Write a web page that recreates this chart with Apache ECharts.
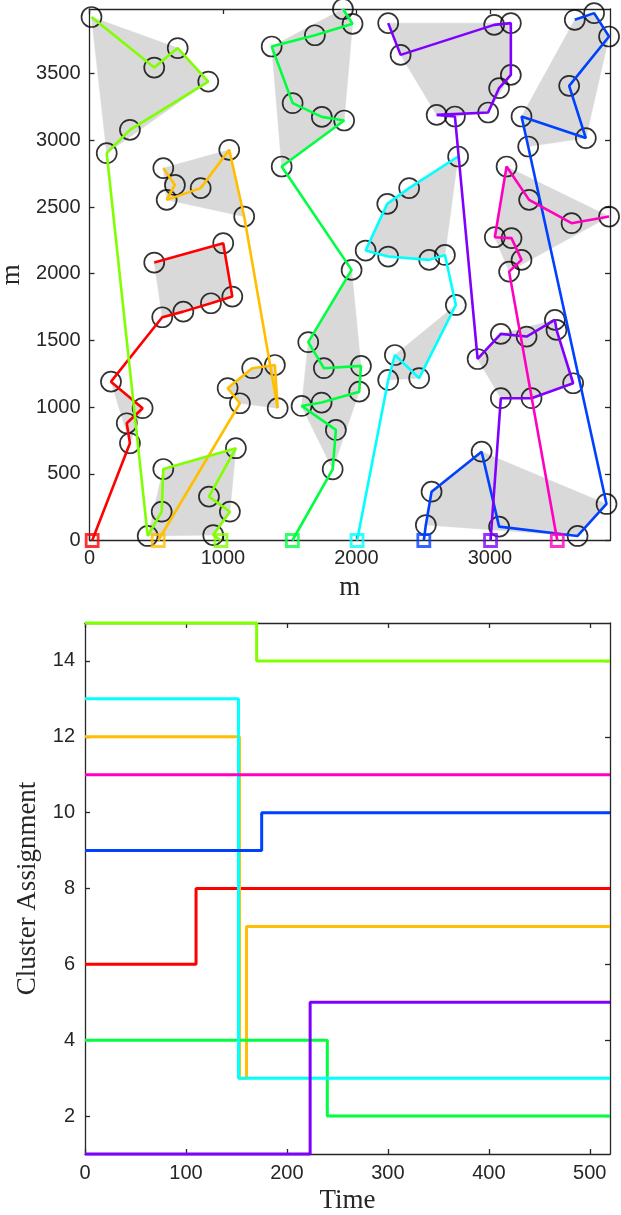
<!DOCTYPE html>
<html>
<head>
<meta charset="utf-8">
<script src="https://cdn.jsdelivr.net/npm/echarts@6/dist/echarts.min.js"></script>
<style>
html,body{margin:0;padding:0;background:#fff;}
#chart{width:621px;height:1215px;}
</style>
</head>
<body>
<div id="chart"></div>
<script>
// ---------- data: routes map (top) ----------
const vehicleColors = ['#ff0000','#ffbf00','#80ff00','#00ff40','#00ffff','#0040ff','#8000ff','#ff00bf'];
const depots = [[20,0],[515,0],[985,0],[1520,0],[2005,0],[2505,0],[3005,0],[3505,0]];

// target clusters, points listed in visiting order
const clusterR2 = [[303,729],[279,879],[398,992],[161,1191]];
const clusterR1 = [[545,1674],[703,1716],[910,1779],[1070,1829],[1002,2229],[485,2084]];
const clusterO2 = [[1127,1029],[1035,1142],[1219,1292],[1389,1316],[1410,992]];
const clusterO1 = [[1159,2429],[1047,2929],[833,2642],[578,2554],[640,2666],[553,2792]];
const clusterL2 = [[927,41],[1052,216],[895,329],[1097,692],[553,536],[541,216],[436,34]];
const clusterL1 = [[129,2904],[303,3079],[890,3441],[661,3692],[485,3546],[15,3925]];
const clusterG2 = [[1822,534],[1846,829],[1589,1009],[1739,1034],[2021,1116],[2034,1309],[1756,1292],[1639,1487],[1964,2029]];
const clusterG1 = [[1440,2804],[1908,3149],[1741,3176],[1522,3279],[1365,3704],[1689,3788],[1971,3874],[1899,3985]];
const clusterC2 = [[2238,1204],[2288,1391],[2470,1217],[2745,1766]];
const clusterC1 = [[2663,2141],[2545,2104],[2238,2129],[2069,2174],[2231,2524],[2395,2642],[2762,2879]];
const clusterB2 = [[2520,116],[2563,366],[2938,666],[3069,104],[3657,34],[3874,274]];
const clusterB1 = [[3287,2954],[3237,3179],[3719,3017],[3594,3409],[3893,3779],[3781,3954],[3636,3904]];
const clusterP2 = [[3082,1067],[3312,1067],[3624,1179],[3499,1579],[3487,1654],[3275,1529],[3082,1549],[2908,1361]];
const clusterP1 = [[2738,3179],[2601,3191],[2987,3209],[3069,3392],[3157,3491],[3157,3879],[3032,3866],[2331,3641],[2238,3879]];
const clusterM  = [[3144,2016],[3237,2104],[3162,2267],[3037,2274],[3125,2804],[3294,2554],[3612,2379],[3893,2429]];

// routes: which clusters each vehicle visits, in order
const routeClusters = [
  [clusterR2, clusterR1],
  [clusterO2, clusterO1],
  [clusterL2, clusterL1],
  [clusterG2, clusterG1],
  [clusterC2, clusterC1],
  [clusterB2, clusterB1],
  [clusterP2, clusterP1],
  [clusterM]
];
const allClusters = [clusterR2,clusterR1,clusterO2,clusterO1,clusterL2,clusterL1,clusterG2,clusterG1,
  clusterC2,clusterC1,clusterB2,clusterB1,clusterP2,clusterP1,clusterM];

// ---------- data: cluster assignment over time (bottom) ----------
const assignRed     = [[0,6],[110,8],[520,8]];
const assignOrange  = [[0,12],[153,3],[160,7],[520,7]];
const assignLime    = [[0,15],[170,14],[520,14]];
const assignGreen   = [[0,4],[240,2],[520,2]];
const assignCyan    = [[0,13],[152,3],[520,3]];
const assignBlue    = [[0,9],[175,10],[520,10]];
const assignPurple  = [[0,1],[223,5],[520,5]];
const assignMagenta = [[0,11],[520,11]];
const assignments = [assignRed,assignOrange,assignLime,assignGreen,assignCyan,assignBlue,assignPurple,assignMagenta];

// ticks
const mapXTicks = [0,1000,2000,3000];
const mapYTicks = [0,500,1000,1500,2000,2500,3000,3500];
const timeTicks = [0,100,200,300,400,500];
const assignTicks = [2,4,6,8,10,12,14];

// ---------- helpers ----------
function convexHull(points){
  const p = points.slice().sort((a,b)=>a[0]-b[0]||a[1]-b[1]);
  const cross=(o,a,b)=>(a[0]-o[0])*(b[1]-o[1])-(a[1]-o[1])*(b[0]-o[0]);
  const lower=[];
  for(const q of p){ while(lower.length>=2&&cross(lower[lower.length-2],lower[lower.length-1],q)<=0) lower.pop(); lower.push(q);}
  const upper=[];
  for(let i=p.length-1;i>=0;i--){const q=p[i]; while(upper.length>=2&&cross(upper[upper.length-2],upper[upper.length-1],q)<=0) upper.pop(); upper.push(q);}
  upper.pop(); lower.pop();
  return lower.concat(upper);
}
const hulls = allClusters.map(convexHull);

const axisColor = '#262626';
const labelFont = {fontFamily:'Liberation Sans, Arial, sans-serif', fontSize:20, color:axisColor, formatter:v=>String(v)};
const nameFont = {fontFamily:'Liberation Serif, Times New Roman, serif', fontSize:27, color:axisColor};

function mkAxis(gridIndex, position, min, max, ticks, showLabel, extra){
  return Object.assign({
    type:'value', gridIndex, position, min, max,
    axisLine:{show:true, onZero:false, lineStyle:{color:axisColor, width:1.3}},
    axisTick:{show:true, inside:true, length:5, customValues:ticks, lineStyle:{color:axisColor, width:1.3}},
    axisLabel:{show:showLabel, customValues:ticks, ...labelFont},
    splitLine:{show:false}
  }, extra||{});
}

const series = [];
// hulls
series.push({
  type:'custom', xAxisIndex:0, yAxisIndex:0, silent:true, z:1, clip:false,
  renderItem:function(params, api){
    const h = hulls[params.dataIndex];
    return {type:'polygon', shape:{points:h.map(p=>api.coord(p))}, style:{fill:'#d9d9d9', stroke:'#d9d9d9', lineWidth:0.5}};
  },
  data: hulls.map(h=>[h[0][0],h[0][1]])
});
// target circles
series.push({
  type:'scatter', xAxisIndex:0, yAxisIndex:0, silent:true, z:2, clip:false,
  symbol:'circle', symbolSize:20,
  itemStyle:{color:'rgba(0,0,0,0)', borderColor:'#000', borderWidth:1.7},
  data: [].concat(...allClusters)
});
// routes
routeClusters.forEach((cl,i)=>{
  series.push({
    type:'line', xAxisIndex:0, yAxisIndex:0, silent:true, z:3, clip:false,
    showSymbol:false, animation:false,
    lineStyle:{color:vehicleColors[i], width:2.6},
    data:[depots[i]].concat(...cl)
  });
});
// depots
series.push({
  type:'scatter', xAxisIndex:0, yAxisIndex:0, silent:true, z:4, clip:false,
  symbol:'rect', symbolSize:12,
  data: depots.map((d,i)=>({value:d, itemStyle:{color:'rgba(0,0,0,0)', borderColor:vehicleColors[i], borderWidth:2.8}}))
});
// assignments
assignments.forEach((a,i)=>{
  series.push({
    type:'line', xAxisIndex:2, yAxisIndex:2, silent:true, clip:false, step:'end',
    showSymbol:false, animation:false,
    lineStyle:{color:vehicleColors[i], width:3},
    data:a
  });
});

const option = {
  animation:false,
  backgroundColor:'#fff',
  grid:[
    {left:89.5, top:9, width:520.5, height:531.5, containLabel:false, outerBoundsMode:'none'},
    {left:85, top:623, width:525, height:531, containLabel:false, outerBoundsMode:'none'}
  ],
  xAxis:[
    mkAxis(0,'bottom',0,3900,mapXTicks,true,{name:'m', nameLocation:'middle', nameGap:34, nameTextStyle:nameFont, axisLabel:{customValues:mapXTicks, margin:8, ...labelFont}}),
    mkAxis(0,'top',0,3900,mapXTicks,false),
    mkAxis(1,'bottom',0,520,timeTicks,true,{name:'Time', nameLocation:'middle', nameGap:33, nameTextStyle:nameFont, axisLabel:{customValues:timeTicks, margin:9, ...labelFont}}),
    mkAxis(1,'top',0,520,timeTicks,false)
  ],
  yAxis:[
    mkAxis(0,'left',0,3985,mapYTicks,true,{name:'m', nameLocation:'middle', nameGap:64, nameTextStyle:nameFont, axisLabel:{customValues:mapYTicks, margin:9, ...labelFont}}),
    mkAxis(0,'right',0,3985,mapYTicks,false),
    mkAxis(1,'left',1,15,assignTicks,true,{name:'Cluster Assignment', nameLocation:'middle', nameGap:42, nameTextStyle:nameFont, axisLabel:{customValues:assignTicks, margin:10, ...labelFont}}),
    mkAxis(1,'right',1,15,assignTicks,false)
  ],
  series
};
const chart = echarts.init(document.getElementById('chart'), null, {renderer:'canvas'});
chart.setOption(option);
</script>
</body>
</html>
